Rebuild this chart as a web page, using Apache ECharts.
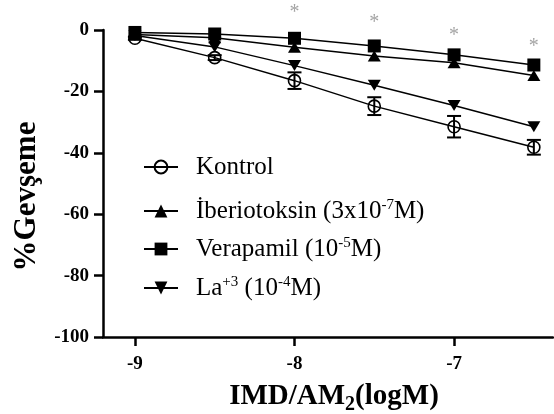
<!DOCTYPE html>
<html>
<head>
<meta charset="utf-8">
<script src="https://cdn.jsdelivr.net/npm/echarts@6/dist/echarts.min.js"></script>
<style>html,body{margin:0;padding:0;background:#fff}#c{width:554px;height:414px}</style>
</head>
<body>
<div id="c"></div>
<script>
const xValues = [-9, -8.5, -8, -7.5, -7, -6.5];
const kontrol = [-2.7, -9.0, -16.5, -24.8, -31.5, -38.2];
const kontrolErr = [0.5, 0.8, 2.7, 2.9, 3.5, 2.4];
const iberiotoksin = [-1.5, -2.5, -5.6, -8.5, -10.7, -14.8];
const verapamil = [-0.8, -1.3, -2.7, -5.2, -8.1, -11.4];
const lanthanum = [-1.8, -5.5, -11.6, -18.0, -24.6, -31.5];
const starX = [-8, -7.5, -7, -6.5];
const starY = [6.5, 3.4, -1.0, -4.6];
const xTicks = [-9, -8, -7];
const seriesNames = ['Kontrol', 'İberiotoksin', 'Verapamil', 'La'];
const legendLabels = ['Kontrol', 'İberiotoksin (3x10{sup|-7}M)', 'Verapamil (10{sup|-5}M)', 'La{sup|+3} (10{sup|-4}M)'];

const serif = "'Liberation Serif', 'Times New Roman', serif";
const pts = arr => xValues.map((x, i) => [x, arr[i]]);

function lineSeries(name, arr, symbol, size, filled) {
  return {
    name: name, type: 'line', data: pts(arr), symbol: symbol, symbolSize: size,
    clip: false, z: 3,
    lineStyle: { color: '#000', width: 1.5 },
    itemStyle: filled ? { color: '#000' } : { color: 'rgba(255,255,255,0)', borderColor: '#000', borderWidth: 1.6 },
    emphasis: { disabled: true }
  };
}

const legendTops = [154, 198, 236, 275];
const legends = seriesNames.map((n, i) => ({
  data: [n], left: 143, top: legendTops[i], padding: 0,
  itemWidth: 34, itemHeight: 16, selectedMode: false,
  formatter: () => legendLabels[i],
  textStyle: {
    fontFamily: serif, fontSize: 25, color: '#000', lineHeight: 26, padding: [0, 0, 0, 13],
    rich: { sup: { fontFamily: serif, fontSize: 15, color: '#000', verticalAlign: 'top', lineHeight: 12 } }
  }
}));

const chart = echarts.init(document.getElementById('c'), null, { renderer: 'canvas' });
chart.setOption({
  animation: false,
  backgroundColor: '#fff',
  legend: legends,
  grid: { left: 103, right: 1, top: 30, bottom: 77, containLabel: false, outerBoundsMode: 'none' },
  xAxis: {
    type: 'value', min: -9.2, max: -6.38,
    name: 'IMD/AM{sub|2}(logM)', nameLocation: 'middle', nameGap: 41,
    nameTextStyle: {
      fontFamily: serif, fontSize: 29, fontWeight: 'bold', color: '#000', padding: [0, 0, 0, 12], lineHeight: 36,
      rich: { sub: { fontFamily: serif, fontSize: 20, fontWeight: 'bold', color: '#000', verticalAlign: 'bottom', lineHeight: 16 } }
    },
    axisLine: { onZero: false, lineStyle: { color: '#000', width: 2.5 } },
    axisTick: { show: true, inside: false, length: 9, lineStyle: { color: '#000', width: 2.5 }, customValues: xTicks },
    axisLabel: { fontFamily: serif, fontSize: 19, fontWeight: 'bold', color: '#000', margin: 18, customValues: xTicks },
    splitLine: { show: false }
  },
  yAxis: {
    type: 'value', min: -100, max: 0, interval: 20,
    name: '%Gevşeme', nameLocation: 'middle', nameGap: 61, nameRotate: 90,
    nameTextStyle: { fontFamily: serif, fontSize: 31, fontWeight: 'bold', color: '#000', padding: [0, 0, 0, -26] },
    axisLine: { show: true, lineStyle: { color: '#000', width: 2.5 } },
    axisTick: { show: true, inside: false, length: 9, lineStyle: { color: '#000', width: 2.5 } },
    axisLabel: { fontFamily: serif, fontSize: 19, fontWeight: 'bold', color: '#000', margin: 14 },
    splitLine: { show: false }
  },
  series: [
    lineSeries('Kontrol', kontrol, 'circle', 12, false),
    lineSeries('İberiotoksin', iberiotoksin, 'triangle', [13, 11], true),
    lineSeries('Verapamil', verapamil, 'rect', 13, true),
    lineSeries('La', lanthanum, 'path://M0,0 L10,0 L5,9 Z', [13, 11], true),
    {
      type: 'custom', z: 4, clip: false, silent: true,
      data: xValues.map((x, i) => [x, kontrol[i] - kontrolErr[i], kontrol[i] + kontrolErr[i]]),
      renderItem: function (params, api) {
        const x = api.value(0);
        const lo = api.coord([x, api.value(1)]);
        const hi = api.coord([x, api.value(2)]);
        const w = 7;
        const st = { stroke: '#000', lineWidth: 2 };
        return { type: 'group', children: [
          { type: 'line', shape: { x1: lo[0], y1: lo[1], x2: hi[0], y2: hi[1] }, style: st },
          { type: 'line', shape: { x1: lo[0] - w, y1: lo[1], x2: lo[0] + w, y2: lo[1] }, style: st },
          { type: 'line', shape: { x1: hi[0] - w, y1: hi[1], x2: hi[0] + w, y2: hi[1] }, style: st }
        ]};
      }
    },
    {
      type: 'scatter', clip: false, silent: true, symbolSize: 1, z: 5,
      itemStyle: { color: 'rgba(0,0,0,0)' },
      data: starX.map((x, i) => [x, starY[i]]),
      label: { show: true, position: 'inside', formatter: '*', fontFamily: serif, fontSize: 20, color: '#8c8c8c', offset: [0, 3] }
    }
  ]
});
</script>
</body>
</html>
